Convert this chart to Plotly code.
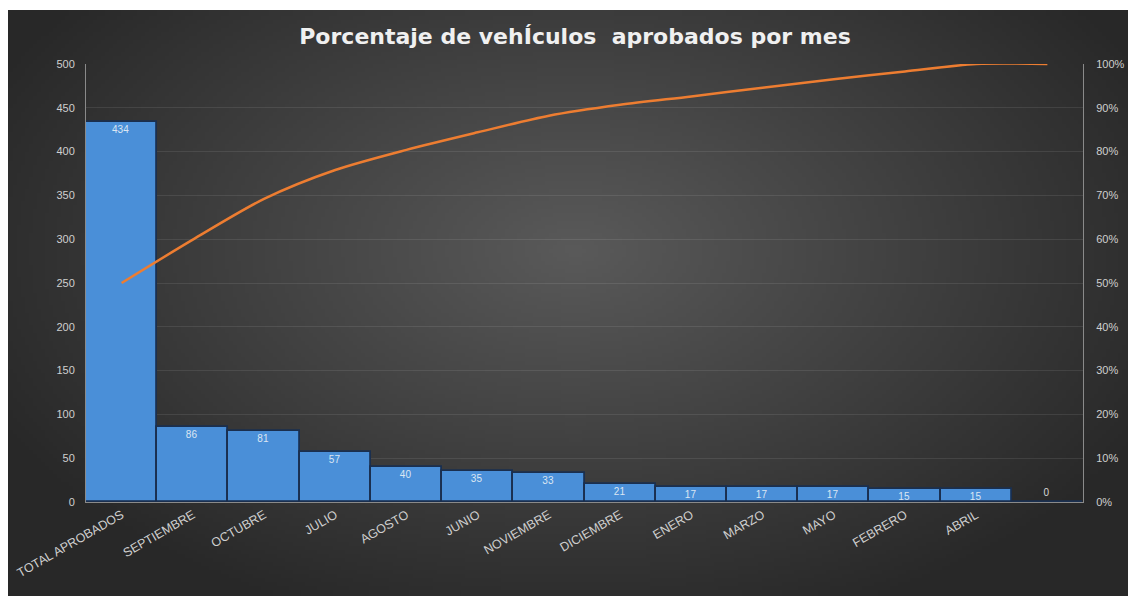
import base64, zlib, struct
import numpy as np
import plotly.graph_objects as go

# ---- data ----
categories = ["TOTAL APROBADOS", "SEPTIEMBRE", "OCTUBRE", "JULIO", "AGOSTO", "JUNIO",
              "NOVIEMBRE", "DICIEMBRE", "ENERO", "MARZO", "MAYO", "FEBRERO", "ABRIL", " "]
aprobados = [434, 86, 81, 57, 40, 35, 33, 21, 17, 17, 17, 15, 15, 0]
porcentaje_acum = [0.500, 0.599, 0.692, 0.758, 0.804, 0.844, 0.882, 0.907,
                   0.926, 0.946, 0.965, 0.983, 1.000, 1.000]
title_text = "Porcentaje de vehÍculos  aprobados por mes"

# ---- layout geometry (page pixels; page body adds an 8px offset) ----
OFF = 8
W, H = 1136 - OFF, 596 - OFF
ML, MR, MT, MB = 86 - OFF, 1136 - 1083, 64 - OFF, 596 - 502
PW, PH = W - ML - MR, H - MT - MB
bx0, by0, bx1, by1 = 7 - OFF, 10 - OFF, W, H

iw, ih = 282, 146
yy, xx = np.mgrid[0:ih, 0:iw]
px = bx0 + (xx + 0.5) / iw * (bx1 - bx0) + OFF
py = by0 + (yy + 0.5) / ih * (by1 - by0) + OFF
d = np.sqrt(((px - 575) / 620) ** 2 + ((py - 250) / 380) ** 2)
v = 0x5a - (0x5a - 0x28) * np.clip(d, 0, 1.05) / 1.05
v = v.astype(np.uint8)
raw = b"".join(b"\x00" + bytes(np.repeat(v[r][:, None], 3, axis=1).flatten()) for r in range(ih))

def chunk(tag, data):
    c = struct.pack(">I", len(data)) + tag + data
    return c + struct.pack(">I", zlib.crc32(tag + data) & 0xffffffff)

png = b"\x89PNG\r\n\x1a\n" + chunk(b"IHDR", struct.pack(">IIBBBBB", iw, ih, 8, 2, 0, 0, 0)) \
      + chunk(b"IDAT", zlib.compress(raw, 9)) + chunk(b"IEND", b"")
bg_uri = "data:image/png;base64," + base64.b64encode(png).decode()

def pxx(p):
    return (p - ML) / PW

def pxy(p):
    return (H - MB - p) / PH

fig = go.Figure()

text_pos = ["inside" if v_ > 0 else "outside" for v_ in aprobados]
fig.add_trace(go.Bar(
    x=categories, y=aprobados,
    text=[str(v_) for v_ in aprobados],
    textposition=text_pos,
    insidetextanchor="end",
    textfont=dict(size=10, color="#dbe6f3", family="Liberation Sans"),
    outsidetextfont=dict(size=10, color="#d8d8d8", family="Liberation Sans"),
    constraintext="none", cliponaxis=False,
    marker=dict(color="#4a8fd8", line=dict(color="#1a2f4f", width=1.8)),
    showlegend=False, hoverinfo="x+y",
))

fig.add_trace(go.Scatter(
    x=categories, y=porcentaje_acum, yaxis="y2", mode="lines",
    line=dict(color="#ed7d31", width=2.5, shape="spline", smoothing=0.8),
    showlegend=False,
))

fig.update_layout(
    width=W, height=H,
    margin=dict(l=ML, r=MR, t=MT, b=MB, pad=0, autoexpand=False),
    paper_bgcolor="white", plot_bgcolor="rgba(0,0,0,0)",
    bargap=0,
    title=dict(text="<b>" + title_text + "</b>", x=(575 - OFF) / W, xanchor="center",
               y=1 - (36 - OFF) / H, yanchor="middle",
               font=dict(family="DejaVu Sans", size=22, color="#f0f0f0")),
    xaxis=dict(tickangle=-30, tickfont=dict(size=12.5, color="#cfcfcf", family="Liberation Sans"),
               showline=True, linecolor="#8a8a8a", linewidth=1, ticks="",
               showgrid=False, automargin=False),
    yaxis=dict(range=[0, 500], dtick=50, tickfont=dict(size=11, color="#cfcfcf", family="Liberation Sans"),
               showline=True, linecolor="#8a8a8a", linewidth=1,
               gridcolor="rgba(255,255,255,0.09)", gridwidth=1, zeroline=False, ticks="",
               ticklabelstandoff=8, automargin=False),
    yaxis2=dict(range=[0, 1], dtick=0.1, tickformat=".0%", overlaying="y", side="right",
                tickfont=dict(size=11, color="#cfcfcf", family="Liberation Sans"),
                showline=True, linecolor="#8a8a8a", linewidth=1, showgrid=False,
                zeroline=False, ticks="", ticklabelstandoff=10, automargin=False),
    images=[dict(source=bg_uri, xref="paper", yref="paper",
                 x=pxx(bx0), y=pxy(by0), sizex=pxx(bx1) - pxx(bx0), sizey=pxy(by0) - pxy(by1),
                 xanchor="left", yanchor="top", sizing="stretch", layer="below")],
)

fig.write_html("out.html")
